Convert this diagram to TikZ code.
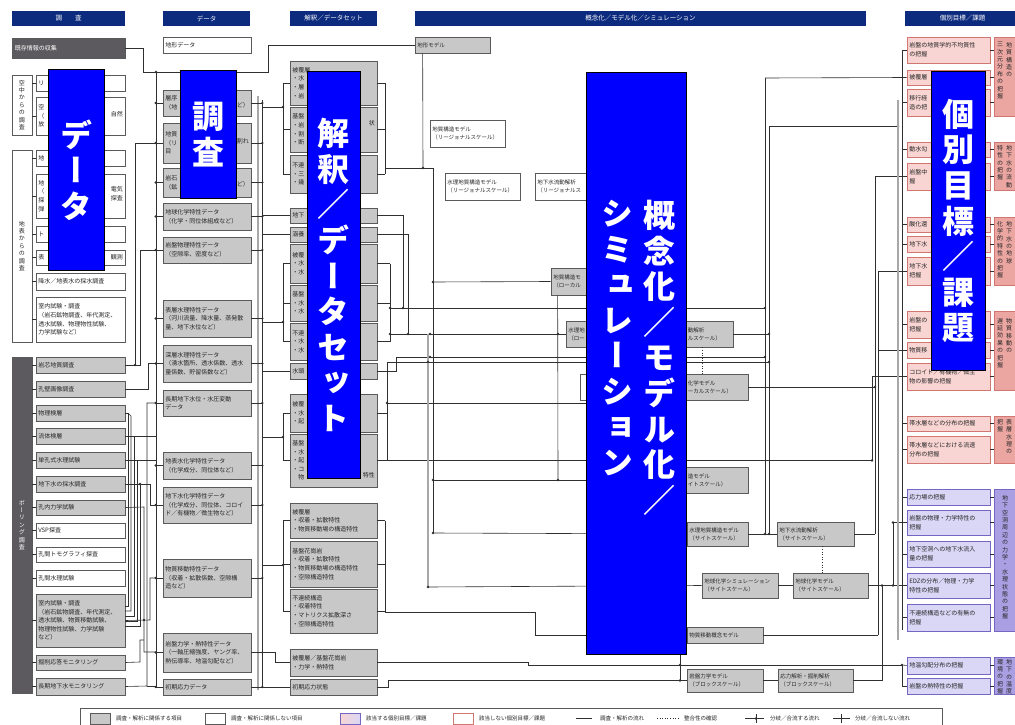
\documentclass[tikz,border=0pt]{standalone}
\usepackage{fontspec}
\setmainfont{Noto Sans CJK JP}
\newfontfamily\vfont[RawFeature=+vert]{Noto Sans CJK JP}
\usetikzlibrary{fit,calc}
\definecolor{navy}{HTML}{0D2B7E}
\definecolor{gfill}{HTML}{C8C8C8}
\definecolor{gdraw}{HTML}{5A5A5A}
\definecolor{dfill}{HTML}{5C5A5E}
\definecolor{pfill}{HTML}{F8D5D3}
\definecolor{pdraw}{HTML}{D27672}
\definecolor{pgfill}{HTML}{EBA6A2}
\definecolor{ufill}{HTML}{DAD6F6}
\definecolor{udraw}{HTML}{7466C2}
\definecolor{ugfill}{HTML}{A99FE2}
\definecolor{lnc}{HTML}{303030}
\definecolor{busc}{HTML}{A8A8A8}
\tikzset{
 box/.style={rectangle,inner sep=0pt,line width=0.7pt},
 gbox/.style={box,draw=gdraw,fill=gfill},
 wbox/.style={box,draw=gdraw,fill=white},
 dbox/.style={box,draw=gdraw,fill=dfill},
 pbox/.style={box,draw=pdraw,fill=pfill},
 pgbox/.style={box,draw=pdraw,fill=pgfill},
 ubox/.style={box,draw=udraw,fill=ufill},
 ugbox/.style={box,draw=udraw,fill=ugfill},
 hdr/.style={box,fill=navy},
 hdrt/.style={inner sep=0pt,text=white,font=\fontsize{6.5}{7}\selectfont},
 bov/.style={box,fill=blue,draw=black,line width=1pt},
 bt/.style={inner sep=0pt,align=left,font=\fontsize{6}{8.6}\selectfont,text=black!85},
 bts/.style={inner sep=0pt,align=left,font=\fontsize{5.5}{8}\selectfont,text=black!85},
 vt/.style={inner sep=0pt,align=center,font=\vfont\fontsize{6}{7.4}\selectfont,text=black!85},
 ovt/.style={inner sep=0pt,align=center,text=white,font=\vfont\bfseries\fontsize{32}{35.6}\selectfont},
 ln/.style={draw=lnc,line width=0.6pt},
 dln/.style={draw=lnc,line width=0.6pt,dotted},
 bus/.style={draw=busc,line width=2.4pt},
 lgt/.style={inner sep=0pt,anchor=west,font=\fontsize{5.5}{6}\selectfont,text=black!85},
}
\newcommand{\bx}[7]{\node[#1,fit={(#3,#4)(#5,#6)}] (#2) {};\node[bt,anchor=west] (#2-t) at ([xshift=2.4pt]#2.west) {#7};}
\newcommand{\bxs}[7]{\node[#1,fit={(#3,#4)(#5,#6)}] (#2) {};\node[bts,anchor=west] (#2-t) at ([xshift=2.4pt]#2.west) {#7};}
\newcommand{\rt}[2]{\node[bt,anchor=east,align=right] (#1-r) at ([xshift=-2.4pt]#1.east) {#2};}
\newcommand{\hd}[6]{\node[hdr,fit={(#2,#3)(#4,#5)}] (#1) {};\node[hdrt] (#1-t) at (#1) {#6};}
\newcommand{\dotat}[1]{\fill[lnc] (#1) circle (1.3pt);}
\begin{document}
\begin{tikzpicture}[x=1pt,y=-1pt]
\useasboundingbox (0,0) rectangle (1015,725);
\clip (0,0) rectangle (1015,725);
\fill[white] (0,0) rectangle (1015,725);

% headers
\hd{h1}{12}{11}{125}{26}{調　　査}
\hd{h2}{163}{11}{250}{26}{データ}
\hd{h3}{290}{11}{377}{26}{解釈／データセット}
\hd{h4}{415}{11}{866}{26}{概念化／モデル化／シミュレーション}
\hd{h5}{905}{11}{1020}{26}{個別目標／課題}

% ---------------- survey column
\node[dbox,fit={(12,38)(125,58)}] (kizon) {};
\node[bt,text=white,anchor=west] (kizon-t) at ([xshift=3pt]kizon.west) {既存情報の収集};

\node[wbox,fit={(12,75)(32,135)}] (gk) {};
\node[vt] (gk-t) at (gk) {空\\中\\か\\ら\\の\\調\\査};
\bx{wbox}{k1}{36}{75}{125}{91}{リ}
\bx{wbox}{k2}{36}{97}{125}{135}{空\\（\\放}
\rt{k2}{\mbox{}\\自然\\\mbox{}}

\node[wbox,fit={(12,150)(32,342)}] (gc) {};
\node[vt] (gc-t) at (gc) {地\\表\\か\\ら\\の\\調\\査};
\bx{wbox}{c1}{36}{150}{125}{166}{地}
\bx{wbox}{c2}{36}{174}{125}{218}{地\\（\\探\\弾}
\rt{c2}{\mbox{}\\電気\\探査\\\mbox{}}
\bx{wbox}{c3}{36}{226}{125}{242}{ト}
\bx{wbox}{c4}{36}{250}{125}{265}{表}
\rt{c4}{観測}
\bx{wbox}{c5}{36}{273}{125}{290}{降水／地表水の採水調査}
\bx{wbox}{c6}{36}{297}{125}{342}{室内試験・調査\\（岩石鉱物調査、年代測定、\\透水試験、物理物性試験、\\力学試験など）}

\node[dbox,fit={(12,357)(32,693)}] (gb) {};
\node[vt,text=white] (gb-t) at (gb) {ボ\\ー\\リ\\ン\\グ\\調\\査};
\bx{gbox}{b1}{36}{357}{125}{373}{岩芯地質調査}
\bx{gbox}{b2}{36}{381}{125}{397}{孔壁画像調査}
\bx{gbox}{b3}{36}{405}{125}{421}{物理検層}
\bx{gbox}{b4}{36}{428}{125}{444}{流体検層}
\bx{gbox}{b5}{36}{452}{125}{468}{単孔式水理試験}
\bx{gbox}{b6}{36}{476}{125}{492}{地下水の採水調査}
\bx{gbox}{b7}{36}{500}{125}{515}{孔内力学試験}
\bx{wbox}{b8}{36}{523}{125}{538}{VSP探査}
\bx{wbox}{b9}{36}{547}{125}{562}{孔間トモグラフィ探査}
\bx{wbox}{b10}{36}{570}{125}{586}{孔間水理試験}
\bx{gbox}{b11}{36}{594}{125}{647}{室内試験・調査\\（岩石鉱物調査、年代測定、\\透水試験、物質移動試験、\\物理物性試験、力学試験\\など）}
\bx{gbox}{b12}{36}{655}{125}{670}{掘削応答モニタリング}
\bx{gbox}{b13}{36}{678}{125}{695}{長期地下水モニタリング}

\foreach \n in {k1,k2} \draw[ln] (gk.east |- \n.west) -- (\n.west);
\foreach \n in {c1,c2,c3,c4,c5,c6} \draw[ln] (gc.east |- \n.west) -- (\n.west);
\foreach \n in {b1,b2,b3,b4,b5,b6,b7,b8,b9,b10,b11,b12,b13} \draw[ln] (gb.east |- \n.west) -- (\n.west);

% ---------------- data column
\bx{wbox}{d0}{163}{37}{251}{53}{地形データ}
\bx{gbox}{d1}{163}{90}{251}{116}{層序\\（地}
\rt{d1}{\mbox{}\\ど）}
\bx{gbox}{d2}{163}{123}{251}{163}{地質\\（リ\\目}
\rt{d2}{\mbox{}\\割れ\\\mbox{}}
\bx{gbox}{d3}{163}{168}{251}{197}{岩石\\（鉱}
\rt{d3}{\mbox{}\\ど）}
\bx{gbox}{d4}{163}{203}{251}{230}{地球化学特性データ\\（化学・同位体組成など）}
\bx{gbox}{d5}{163}{237}{251}{263}{岩盤物理特性データ\\（空隙率、密度など）}
\bx{gbox}{d6}{163}{300}{251}{337}{表層水理特性データ\\（河川流量、降水量、蒸発散\\量、地下水位など）}
\bx{gbox}{d7}{163}{345}{251}{382}{深層水理特性データ\\（湧水箇所、透水係数、透水\\量係数、貯留係数など）}
\bx{gbox}{d8}{163}{390}{251}{416}{長期地下水位・水圧変動\\データ}
\bx{gbox}{d9}{163}{452}{251}{479}{地表水化学特性データ\\（化学成分、同位体など）}
\bx{gbox}{d10}{163}{487}{251}{523}{地下水化学特性データ\\（化学成分、同位体、コロイ\\ド／有機物／微生物など）}
\bx{gbox}{d11}{163}{559}{251}{597}{物質移動特性データ\\（収着・拡散係数、空隙構\\造など）}
\bx{gbox}{d12}{163}{633}{251}{672}{岩盤力学・熱特性データ\\（一軸圧縮強度、ヤング率、\\熱伝導率、地温勾配など）}
\bx{gbox}{d13}{163}{679}{251}{695}{初期応力データ}

% ---------------- interpretation column
\bx{gbox}{i1}{290}{61}{377}{105}{被覆層\\・水\\・層\\・岩}
\bx{gbox}{i2}{290}{107}{377}{152}{基盤\\・岩\\・割\\・断}
\rt{i2}{\mbox{}\\状\\\mbox{}\\\mbox{}}
\bx{gbox}{i3}{290}{155}{377}{193}{不連\\・三\\・幾}
\bx{gbox}{i4}{290}{208}{377}{223}{地下}
\bx{gbox}{i5}{290}{227}{377}{242}{涵養}
\bx{gbox}{i6}{290}{244}{377}{283}{被覆\\・水\\・水}
\bx{gbox}{i7}{290}{285}{377}{321}{基盤\\・水\\・水}
\bx{gbox}{i8}{290}{323}{377}{360}{不連\\・水\\・水}
\bx{gbox}{i9}{290}{363}{377}{379}{水頭}
\bx{gbox}{i10}{290}{394}{377}{432}{被覆\\・水\\・起}
\bx{gbox}{i11}{290}{434}{377}{487}{基盤\\・水\\・起\\・コ\\　物}
\rt{i11}{\mbox{}\\\mbox{}\\\mbox{}\\\mbox{}\\特性}
\bx{gbox}{i12}{290}{503}{377}{538}{被覆層\\・収着・拡散特性\\・物質移動場の構造特性}
\bx{gbox}{i13}{290}{541}{377}{587}{基盤花崗岩\\・収着・拡散特性\\・物質移動場の構造特性\\・空隙構造特性}
\bx{gbox}{i14}{290}{589}{377}{633}{不連続構造\\・収着特性\\・マトリクス拡散深さ\\・空隙構造特性}
\bx{gbox}{i15}{290}{649}{377}{676}{被覆層／基盤花崗岩\\・力学・熱特性}
\bx{gbox}{i16}{290}{679}{377}{695}{初期応力状態}

% ---------------- model column
\bxs{gbox}{m0}{415}{37}{490}{53}{地形モデル}
\bxs{wbox}{m1}{430}{120}{505}{147}{地質構造モデル\\（リージョナルスケール）}
\bxs{wbox}{m2}{445}{173}{520}{200}{水理地質構造モデル\\（リージョナルスケール）}
\bxs{wbox}{m3}{535}{173}{610}{200}{地下水流動解析\\（リージョナルス}
\bxs{gbox}{m4}{551}{268}{626}{295}{地質構造モ\\（ローカル}
\bxs{gbox}{m5}{566}{321}{641}{347}{水理地\\（ロー}
\node[gbox,fit={(658,321)(733,347)}] (m6) {};
\node[bts,anchor=west] (m6-t) at ($(m6.west)+(30,0)$) {動解析\\ルスケール）};
\node[wbox,fit={(580,374)(655,400)}] (m7) {};
\node[gbox,fit={(673,374)(748,400)}] (m8) {};
\node[bts,anchor=west] (m8-t) at ($(m8.west)+(15,0)$) {化学モデル\\ーカルスケール）};
\node[gbox,fit={(678,467)(748,493)}] (m9) {};
\node[bts,anchor=west] (m9-t) at ($(m9.west)+(10,0)$) {造モデル\\イトスケール）};
\bxs{gbox}{m10}{687}{522}{748}{546}{水理地質構造モデル\\（サイトスケール）}
\bxs{gbox}{m11}{777}{522}{854}{546}{地下水流動解析\\（サイトスケール）}
\bxs{gbox}{m12}{702}{573}{778}{598}{地球化学シミュレーション\\（サイトスケール）}
\bxs{gbox}{m13}{793}{573}{868}{598}{地球化学モデル\\（サイトスケール）}
\bxs{gbox}{m14}{687}{627}{763}{643}{物質移動概念モデル}
\bxs{gbox}{m15}{687}{669}{763}{692}{岩盤力学モデル\\（ブロックスケール）}
\bxs{gbox}{m16}{778}{669}{853}{692}{応力解析・掘削解析\\（ブロックスケール）}

% ---------------- goal column
\bx{pbox}{t1}{907}{37}{990}{63}{岩盤の地質学的不均質性\\の把握}
\bx{pbox}{t2}{907}{70}{990}{85}{被覆層}
\bx{pbox}{t3}{907}{89}{990}{116}{移行経\\造の把}
\bx{pbox}{t4}{907}{142}{990}{157}{動水勾}
\bx{pbox}{t5}{907}{163}{990}{190}{岩盤中\\握}
\bx{pbox}{t6}{907}{217}{990}{232}{酸化還}
\bx{pbox}{t7}{907}{236}{990}{252}{地下水}
\bx{pbox}{t8}{907}{257}{990}{285}{地下水\\把握}
\bx{pbox}{t9}{907}{311}{990}{338}{岩盤の\\把握}
\bx{pbox}{t10}{907}{342}{990}{358}{物質移}
\bx{pbox}{t11}{907}{363}{990}{390}{コロイド／有機物／微生\\物の影響の把握}
\bx{pbox}{t12}{907}{416}{990}{431}{帯水層などの分布の把握}
\bx{pbox}{t13}{907}{436}{990}{463}{帯水層などにおける流速\\分布の把握}
\bx{ubox}{u1}{907}{489}{990}{505}{応力場の把握}
\bx{ubox}{u2}{907}{510}{990}{535}{岩盤の物理・力学特性の\\把握}
\bx{ubox}{u3}{907}{541}{990}{567}{地下空洞への地下水流入\\量の把握}
\bx{ubox}{u4}{907}{573}{990}{598}{EDZの分布／物理・力学\\特性の把握}
\bx{ubox}{u5}{907}{604}{990}{631}{不連続構造などの有無の\\把握}
\bx{ubox}{u6}{907}{657}{990}{674}{地温勾配分布の把握}
\bx{ubox}{u7}{907}{678}{990}{694}{岩盤の熱特性の把握}

\node[pgbox,fit={(994,37)(1022,116)}] (T1) {};
\node[vt,anchor=north] (T1a) at (1009,42) {地\\質\\構\\造\\の};
\node[vt,anchor=north] (T1b) at (1000,42) {三\\次\\元\\分\\布\\の\\把\\握};
\node[pgbox,fit={(994,142)(1022,190)}] (T2) {};
\node[vt,anchor=north] (T2a) at (1009,145) {地\\下\\水\\の\\流\\動};
\node[vt,anchor=north] (T2b) at (1000,145) {特\\性\\の\\把\\握};
\node[pgbox,fit={(994,217)(1022,285)}] (T3) {};
\node[vt,anchor=north] (T3a) at (1009,221) {地\\下\\水\\の\\地\\球};
\node[vt,anchor=north] (T3b) at (1000,221) {化\\学\\的\\特\\性\\の\\把\\握};
\node[pgbox,fit={(994,311)(1022,390)}] (T4) {};
\node[vt,anchor=north] (T4a) at (1009,318) {物\\質\\移\\動\\の};
\node[vt,anchor=north] (T4b) at (1000,318) {遅\\延\\効\\果\\の\\把\\握};
\node[pgbox,fit={(994,416)(1022,463)}] (T5) {};
\node[vt,anchor=north] (T5a) at (1009,419) {表\\層\\水\\理\\の};
\node[vt,anchor=north] (T5b) at (1000,419) {把\\握};
\node[ugbox,fit={(994,489)(1022,631)}] (U1) {};
\node[vt,anchor=north] (U1a) at (1005,495) {地\\下\\空\\洞\\周\\辺\\の\\力\\学\\・\\水\\理\\状\\態\\の\\把\\握};
\node[ugbox,fit={(994,657)(1022,694)}] (U2) {};
\node[vt,anchor=north] (U2a) at (1009,659) {地\\下\\の\\温\\度};
\node[vt,anchor=north] (U2b) at (1000,659) {環\\境\\の\\把\\握};

\foreach \n/\g in {t1/T1,t2/T1,t3/T1,t4/T2,t5/T2,t6/T3,t7/T3,t8/T3,t9/T4,t10/T4,t11/T4,t12/T5,t13/T5,u1/U1,u2/U1,u3/U1,u4/U1,u5/U1,u6/U2,u7/U2}
  \draw[ln] (\n.east) -- (\g.west |- \n.east);

% ================= connectors
\draw[ln] (kizon.east) -- (143,48) -- (143,72) -- (268,72) -- (268,45) -- (m0.west);
\dotat{156,72}
\draw[ln] (156,72) -- (156,688);
\foreach \n in {d1,d2,d3,d4,d5,d6,d7,d8,d9,d10,d11,d12,d13} {\draw[ln] ($(\n.west)+(-7,0)$) -- (\n.west); \dotat{$(\n.west)+(-7,0)$}}
% survey -> data
\draw[ln] (b1.east) -- (140,365) -- (140,250) -- (156,250);
\draw[ln] (135,365) -- (135,143) -- (156,143);
\dotat{135,365}
\draw[ln] (b2.east) -- (148,389) -- (148,363) -- (156,363);
\draw[ln] (b3.east) -- (128,413) -- (128,606) -- (125,606);
\draw[ln] (128,413) -- (131,416) -- (131,611) -- (125,611);
\draw[ln] (b4.east) -- (134,436) -- (134,616) -- (125,616);
\draw[ln] (b5.east) -- (137,460) -- (137,621) -- (125,621);
\draw[ln] (134,436) -- (156,436);
\draw[ln] (137,460) -- (156,460);
\draw[ln] (b6.east) -- (150,484) -- (150,505) -- (156,505);
\draw[ln] (140,484) -- (140,626) -- (125,626);
\dotat{140,484}
\draw[ln] (b7.east) -- (144,507) -- (144,652) -- (156,652);
\draw[ln] (b11.east) -- (150,620) -- (150,578) -- (156,578);
\dotat{144,620}
\draw[ln] (b12.east) -- (140,662) -- (140,640) -- (144,640);
\draw[ln] (b13.east) -- (147,686) -- (147,403) -- (156,403);
\draw[ln] (147,686) -- (156,686);

% data -> interpretation
\draw[bus] (258,96) -- (258,690);
\draw[ln] (262,100) -- (262,687);
\foreach \n in {d1,d2,d3,d4,d5,d6,d7,d8,d9,d10,d11,d12,d13} {\draw[ln] (\n.east) -- ++(11,0); \dotat{$(\n.east)+(11,0)$}}
\draw[ln] (262,107) -- (283,107); \dotat{283,107}
\draw[ln] (283,83) -- (283,174);
\foreach \n in {i1,i2,i3} \draw[ln] (\n.west) -- ++(-7,0);
\draw[ln] (262,215.5) -- (i4.west);
\draw[ln] (262,234.5) -- (i5.west);
\draw[ln] (262,322) -- (283,322); \dotat{283,322}
\draw[ln] (283,263.5) -- (283,341.5);
\foreach \n in {i6,i7,i8} \draw[ln] (\n.west) -- ++(-7,0);
\draw[ln] (262,371) -- (i9.west);
\draw[ln] (262,437) -- (283,437); \dotat{283,437}
\draw[ln] (283,413) -- (283,460.5);
\foreach \n in {i10,i11} \draw[ln] (\n.west) -- ++(-7,0);
\draw[ln] (262,565) -- (283,565); \dotat{283,565}
\draw[ln] (283,520.5) -- (283,611);
\foreach \n in {i12,i13,i14} \draw[ln] (\n.west) -- ++(-7,0);
\draw[ln] (262,652) -- (275,652) -- (275,662.5) -- (i15.west);
\draw[ln] (262,687) -- (i16.west);

% interpretation -> models
\foreach \n in {i1,i2,i3} \draw[ln] (\n.east) -- ++(8,0);
\draw[ln] (385,83) -- (385,174);
\draw[ln] (385,168) -- (433,168);
\draw[ln] ([xshift=8pt]m0.south west) -- (423,168); \dotat{423,168}
\draw[ln] (433,168) -- (433,533);
\draw[ln] (433,282) -- (m4.west); \dotat{433,282}
\draw[ln] (433,480) -- (600,480); \dotat{433,480}
\draw[ln] (433,533) -- (m10.west); \dotat{433,533}
\draw[ln] (m4.south west) ++(7,0) -- (558,480); \dotat{558,480}
\dotat{558,334}
\foreach \n in {i6,i7,i8} \draw[ln] (\n.east) -- ++(13,0);
\draw[ln] (390,263.5) -- (390,341.5);
\draw[ln] (390,308) -- (765,308); \dotat{390,308}
\draw[ln] (390,334) -- (m5.west); \dotat{390,334}
\draw[ln] (i4.east) -- (403,215.5) -- (403,308); \dotat{403,308}
\draw[ln] (i5.east) -- (408,234.5) -- (408,334); \dotat{408,334}
\draw[ln] (i9.east) -- (396,371) -- (396,357) -- (765,357);
\foreach \n in {i10,i11} \draw[ln] (\n.east) -- ++(10,0);
\draw[ln] (387,362) -- (387,460.5);
\draw[ln] (387,362) -- (769,362);
\draw[ln] (387,403) -- (600,403); \dotat{387,403}
\draw[ln] (387,460.5) -- (872,460.5);
\draw[bus] (428,334) -- (428,587);
\dotat{430,334}\dotat{430,357}\dotat{428,362}
\draw[ln] (428,587) -- (m12.west); \dotat{428,587}
\foreach \n in {i12,i13,i14} \draw[ln] (\n.east) -- ++(8,0);
\draw[ln] (385,520.5) -- (385,612);
\draw[ln] (385,612) -- (535,612) -- (535,635) -- (m14.west);
\draw[ln] (i15.east) -- (528,662.5) -- (528,665) -- (902,665); \dotat{680,665}
\draw[ln] (i16.east) -- (388,687) -- (388,680.5) -- (m15.west); \dotat{680,680.5}
\draw[ln] (680,650) -- (680,680.5);

% right part
\draw[ln] (765,78) -- (t2.west);
\draw[ln] (765,78) -- (765,534);
\draw[ln] (769,126) -- (898,126); \dotat{898,126}
\draw[ln] (769,126) -- (769,534);
\dotat{765,308}\dotat{765,357}\dotat{769,362}
\draw[ln] (m6.east) -- (769,334); \dotat{769,334}
\draw[ln] (m10.east) -- (m11.west); \dotat{765,534}\dotat{769,534}
\draw[ln] (m11.east) -- (875,534);
\draw[ln] (875,177) -- (875,534);
\draw[ln] (875,176.5) -- (t5.west);
\draw[ln] (m8.east) -- (875,387); \dotat{875,387}
\draw[ln] (872,376.5) -- (t11.west);
\draw[ln] (872,376.5) -- (872,460.5); \dotat{872,460.5}
\draw[ln] (878,271) -- (t8.west);
\draw[ln] (878,271) -- (878,635);
\draw[ln] (878,350) -- (t10.west);
\draw[ln] (m14.east) -- (878,635);
\draw[dln] ($(m6.south west)+(45,0)$) -- ($(m8.north west)+(30,0)$);
\draw[dln] ($(m11.south west)+(46,0)$) -- ($(m13.north west)+(30,0)$);
\draw[ln] (m12.east) -- (m13.west);
\draw[ln] (m13.east) -- (893,585.5);
\draw[ln] (893,522.5) -- (893,585.5);
\draw[ln] (893,522.5) -- (u2.west); \dotat{893,522.5}
\draw[ln] (893,585.5) -- (u4.west); \dotat{893,585.5}
\draw[ln] (m15.east) -- (m16.west);
\draw[ln] (m16.east) -- (882,680.5) -- (882,585.5); \dotat{882,585.5}
\draw[ln] (902,665) -- (u6.west); \dotat{902,665}
\draw[ln] (902,665) -- (902,686) -- (u7.west);
\draw[bus] (898,100) -- (898,640);
\draw[ln] (902,50) -- (902,630);
\foreach \n in {t1,t3,t4,t6,t7,t9,t12,t13,u1,u3,u5} \draw[ln] (\n.west) -- ++(-5,0);

% legend
\node[box,draw=gdraw,fit={(80,708)(942,732)}] (leg) {};
\node[gbox,fit={(90,713)(110,724)}] (lg1) {};
\node[lgt] (lg1t) at (116,718.5) {調査・解析に関係する項目};
\node[wbox,fit={(205,713)(225,724)}] (lg2) {};
\node[lgt] (lg2t) at (231,718.5) {調査・解析に関係しない項目};
\node[box,draw=udraw,left color=pfill,right color=ufill,fit={(340,713)(360,724)}] (lg3) {};
\node[lgt] (lg3t) at (366,718.5) {該当する個別目標／課題};
\node[box,draw=pdraw,fill=white,fit={(453,713)(473,724)}] (lg4) {};
\node[lgt] (lg4t) at (479,718.5) {該当しない個別目標／課題};
\coordinate (lg5a) at (576,718.5); \coordinate (lg5b) at (592,718.5);
\draw[ln] (lg5a) -- (lg5b);
\node[lgt] (lg5t) at (600,718.5) {調査・解析の流れ};
\coordinate (lg6a) at (657,718.5); \coordinate (lg6b) at (680,718.5);
\draw[dln] (lg6a) -- (lg6b);
\node[lgt] (lg6t) at (684,718.5) {整合性の確認};
\coordinate (lg7a) at (745,718.5); \coordinate (lg7b) at (764,718.5);
\draw[ln] (lg7a) -- (lg7b); \draw[ln] (756,714) -- (756,723); \dotat{756,718.5}
\node[lgt] (lg7t) at (770,718.5) {分岐／合流する流れ};
\coordinate (lg8a) at (833,718.5); \coordinate (lg8b) at (850,718.5);
\draw[ln] (lg8a) -- (lg8b); \draw[ln] (841.5,714) -- (841.5,723);
\node[lgt] (lg8t) at (855,718.5) {分岐／合流しない流れ};

% ================= blue overlays
\node[bov,fit={(48,70)(104,270)}] (o1) {};
\node[ovt] (o1t) at (o1) {デ\\ー\\タ};
\node[bov,fit={(180,71)(236,198)}] (o2) {};
\node[ovt] (o2t) at (o2) {調\\査};
\node[bov,fit={(307,72)(360,478)}] (o3) {};
\node[ovt] (o3t) at (o3) {解\\釈\\／\\デ\\ー\\タ\\セ\\ッ\\ト};
\node[bov,fit={(586,73)(686,654)}] (o4) {};
\node[ovt,anchor=north] (o4a) at (659,200) {概\\念\\化\\／\\モ\\デ\\ル\\化\\／};
\node[ovt,anchor=north] (o4b) at (617,200) {シ\\ミ\\ュ\\レ\\ー\\シ\\ョ\\ン};
\node[bov,fit={(931,72)(985,370)}] (o5) {};
\node[ovt] (o5t) at (o5) {個\\別\\目\\標\\／\\課\\題};
\end{tikzpicture}
\end{document}
